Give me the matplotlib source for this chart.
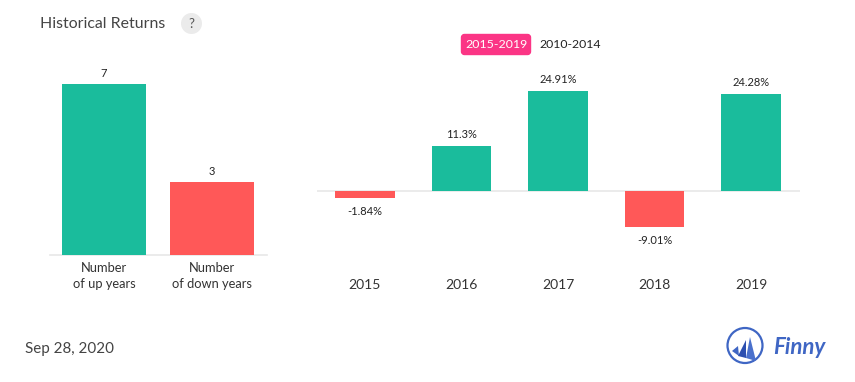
import matplotlib
matplotlib.use('Agg')
import matplotlib.pyplot as plt
from matplotlib.patches import Circle, FancyBboxPatch, Polygon

plt.rcParams['font.family'] = ['Lato', 'DejaVu Sans']

# left panel
count_labels = ['Number\nof up years', 'Number\nof down years']
count_values = [7, 3]

# right panel
years = ['2015', '2016', '2017', '2018', '2019']
returns = [-1.84, 11.3, 24.91, -9.01, 24.28]
return_labels = ['-1.84%', '11.3%', '24.91%', '-9.01%', '24.28%']

UP = '#1abc9c'
DOWN = '#ff5858'
BASE = '#e8e8e8'
W, H = 855, 382


def axes_px(fig, x0, y0, x1, y1):
    # pixel box, y measured from the top of the image
    return fig.add_axes([x0 / W, 1 - y1 / H, (x1 - x0) / W, (y1 - y0) / H])


fig = plt.figure(figsize=(W / 100, H / 100), dpi=100)

# overlay in image pixels for title, toggle and logo
bg = axes_px(fig, 0, 0, W, H)
bg.set_xlim(0, W)
bg.set_ylim(H, 0)
bg.axis('off')

bg.text(40, 23.5, 'Historical Returns', fontsize=11.4, color='#444444', va='center')
bg.add_patch(Circle((191.5, 23.5), 10.5, color='#ebebeb', lw=0))
bg.text(191.5, 24, '?', fontsize=9.5, color='#555555', ha='center', va='center')

bg.add_patch(FancyBboxPatch((461.5, 34.5), 69, 20, boxstyle='round,pad=0,rounding_size=3',
                            fc='#fb3585', ec='#fb3585', lw=1))
bg.text(496, 45, '2015-2019', fontsize=8.9, color='white', ha='center', va='center')
bg.text(570, 45, '2010-2014', fontsize=8.8, color='#222222', ha='center', va='center')

bg.text(25, 349, 'Sep 28, 2020', fontsize=10.9, color='#444444', va='center')

# logo
bg.add_patch(Circle((745, 345.5), 17.5, fc='none', ec='#3f66c4', lw=1.6))
bg.add_patch(Polygon([[732, 351], [738, 346], [739, 356]], color='#3f66c4', lw=0))
bg.add_patch(Polygon([[738, 356], [746, 340], [746, 358]], color='#2c4fb0', lw=0))
bg.add_patch(Polygon([[746, 358], [750, 337], [756, 361]], color='#4a70cc', lw=0))
bg.text(799, 348, 'Finny', fontsize=16, color='#3f66c4', style='italic', weight='bold',
        ha='center', va='center')

# left panel
ax1 = axes_px(fig, 50, 60, 267, 255)
bars = ax1.bar(range(2), count_values, width=0.778, color=[UP, DOWN], zorder=3)
ax1.set_xlim(-0.5, 1.51)
ax1.set_ylim(0, 195 / 24.4)
ax1.set_xticks(range(2))
ax1.set_xticklabels(count_labels, fontsize=9.3, color='#333333', linespacing=1.42)
ax1.tick_params(axis='x', length=0, pad=5)
ax1.set_yticks([])
for s in ['top', 'left', 'right']:
    ax1.spines[s].set_visible(False)
ax1.spines['bottom'].set_color(BASE)
ax1.spines['bottom'].set_linewidth(1.2)
for b, v in zip(bars, count_values):
    ax1.annotate(str(v), (b.get_x() + b.get_width() / 2, v), xytext=(0, 3.8),
                 textcoords='offset points', ha='center', va='bottom', fontsize=8, color='#222222')

# right panel
ax2 = axes_px(fig, 317, 60, 800, 272)
colors = [UP if r > 0 else DOWN for r in returns]
bars = ax2.bar(range(5), returns, width=0.615, color=colors, zorder=3)
ax2.set_xlim(-0.497, 4.508)
ax2.set_ylim(-81 / 4.014, 131 / 4.014)
ax2.axhline(0, color=BASE, lw=1.2, zorder=2)
ax2.set_xticks(range(5))
ax2.set_xticklabels(years, fontsize=10, color='#333333')
ax2.tick_params(axis='x', length=0, pad=5)
ax2.set_yticks([])
for s in ax2.spines.values():
    s.set_visible(False)
for b, r, t in zip(bars, returns, return_labels):
    off = 4.3 if r > 0 else -5.5
    ax2.annotate(t, (b.get_x() + b.get_width() / 2, r), xytext=(0, off),
                 textcoords='offset points', ha='center', va='bottom' if r > 0 else 'top',
                 fontsize=8, color='#222222')

fig.savefig('out.png', dpi=100)
